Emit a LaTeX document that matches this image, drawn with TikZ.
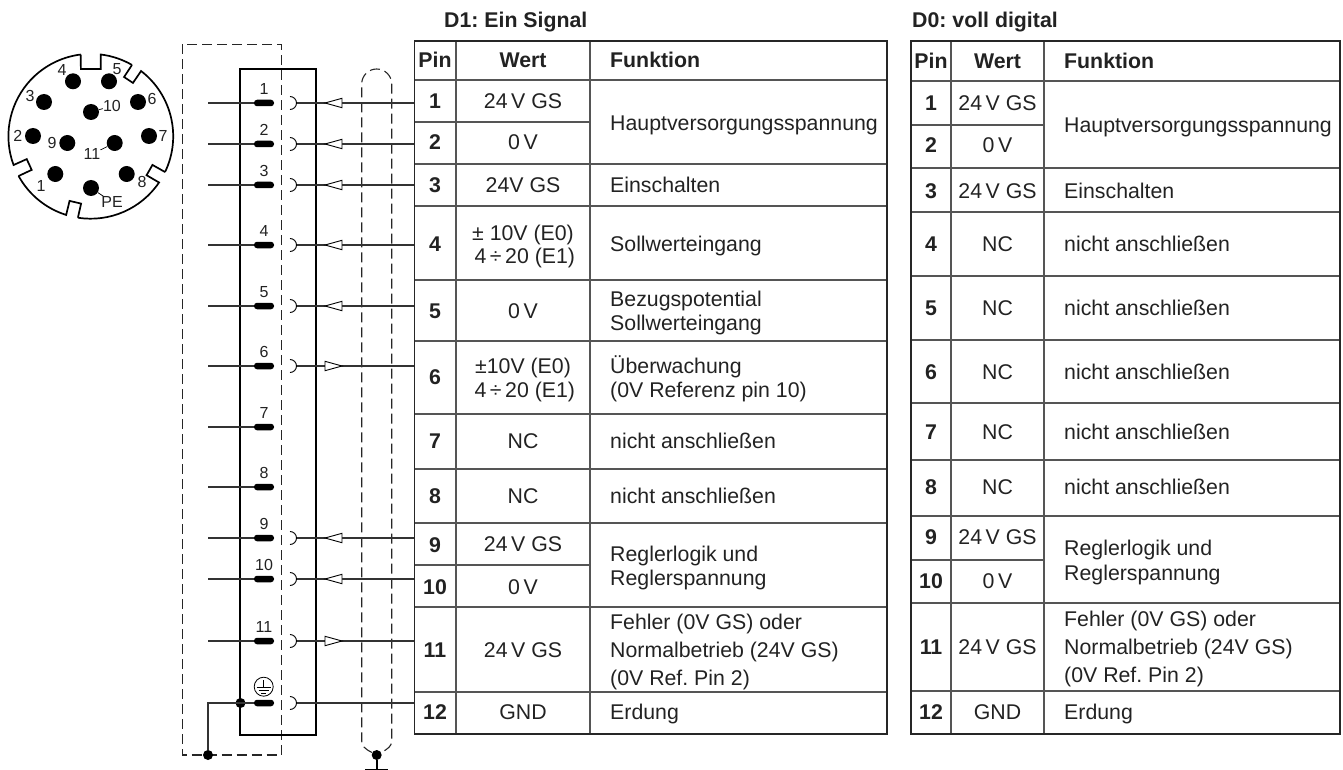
\documentclass[tikz,border=0pt]{standalone}
\usepackage{fontspec}
\setmainfont{Liberation Sans}
\usetikzlibrary{positioning}
\frenchspacing
\definecolor{txtcol}{HTML}{222222}
\definecolor{gridcol}{HTML}{555555}
\definecolor{wirecol}{HTML}{333333}
\tikzset{
  every node/.style={inner sep=0pt,text=txtcol,font=\fontsize{21.3}{24}\selectfont},
  pintxt/.style={anchor=base,font=\fontsize{21.3}{24}\selectfont\bfseries},
  werttxt/.style={anchor=base},
  funktxt/.style={anchor=base west},
  smalltxt/.style={font=\fontsize{16}{17}\selectfont},
  outerline/.style={draw=black!85,line width=1.8pt},
  gridline/.style={draw=gridcol,line width=1.4pt},
  wire/.style={draw=wirecol,line width=1.1pt},
  dashline/.style={draw=black!85,line width=1.1pt,dash pattern=on 10pt off 5pt},
  pinbar/.style={fill=black,rectangle,rounded corners=3pt,minimum width=20pt,minimum height=6.5pt},
  blackdot/.style={fill=black,circle,minimum size=10pt},
  conpin/.style={fill=black,circle,minimum size=16pt}
}
\begin{document}
\begin{tikzpicture}[x=1pt,y=-1pt]
\useasboundingbox (0,0) rectangle (1343,770);

\begin{scope}[shift={(90.8,136.3)}]
  \foreach \a/\o/\i/\e in {29.9/4.2/5/99,103.2/4.2/5/151.2,155.4/4.2/5/263,270/7/8.4/300,303.8/3.8/4.5/385.7}
    \draw[line width=1.7pt] (\a-\o:82.4) -- (\a-\i:68) -- (\a+\i:68) -- (\a+\o:82.4)
      arc[start angle=\a+\o,end angle=\e,radius=82.4];
\end{scope}
\foreach \id/\x/\y/\lx/\ly in {1/55.3/174/41/186,2/33/136/17.7/136,3/44/102/30/96,4/73/81.3/62/70,5/109/81.3/117/69,6/138/102/152/99,7/149/136/163/136,8/126.7/174/142/182,9/67.3/143/52/143,10/91/112/112/106,11/114.7/143/92/154,PE/91/188/112/202}{
  \node[conpin] (con\id) at (\x,\y) {};
  \node[smalltxt] (conlbl\id) at (\lx,\ly) {\id};
}
\draw[line width=0.7pt] (con10) -- (conlbl10);
\draw[line width=0.7pt] (con11) -- (conlbl11);
\draw[line width=0.7pt] (conPE) -- (conlblPE);

\draw[dashline] (182.3,44.3) rectangle (281.3,755);
\draw[line width=1.9pt] (240.3,69) rectangle (316,735);
\draw[dashline] (372,752.5) .. controls (365,749) and (361.7,746) .. (361.7,741) -- (361.7,84)
  arc[start angle=180,end angle=360,radius=15] -- (391.7,741)
  .. controls (391.7,746) and (388,749) .. (381,752.5);

\foreach \n/\y in {1/103,2/144,3/185,4/245,5/306,6/366,7/427,8/487,9/538,10/579,11/641,12/703}{
  \coordinate (wirel\n) at (208,\y);
  \node[pinbar] (pin\n) at (264,\y) {};
}
\foreach \n in {1,...,11}{
  \draw[wire] (wirel\n) -- (pin\n);
  \node[smalltxt,above=4.5pt of pin\n] (pinlbl\n) {\n};
}
\foreach \n/\y/\d in {1/103/1,2/144/1,3/185/1,4/245/1,5/306/1,6/366/-1,9/538/1,10/579/1,11/641/-1,12/703/0}{
  \coordinate (sock\n) at (296.5,\y);
  \coordinate (wirer\n) at (414.5,\y);
  \draw[wire] (sock\n) -- (wirer\n);
  \draw[line width=0.9pt] (290,\y-6.5) arc[start angle=-90,end angle=90,radius=6.5];
  \ifnum\d=0\else
    \draw[line width=0.9pt,fill=white] (333.5-8.5*\d,\y) -- ++(17*\d,-4.7) -- ++(0,9.4) -- cycle;
  \fi
}

\node[blackdot] (junc) at (240.5,703) {};
\node[blackdot] (shield) at (208,755) {};
\node[blackdot] (earth) at (376.7,755) {};
\coordinate (earthbar) at (376.7,769.2);
\draw[wire] (shield) |- (pin12);
\draw[line width=1.7pt] (earth) -- (earthbar);
\draw[line width=1.3pt] (365,769.2) -- (388,769.2);
\node[circle,draw=black,line width=0.8pt,minimum size=19pt] (gndsym) at (263.7,686.7) {};
\draw[line width=0.8pt] (263.7,680) -- (263.7,687);
\draw[line width=0.8pt] (256.7,687) -- (270.7,687);
\draw[line width=0.8pt] (258.7,690) -- (268.7,690);
\draw[line width=0.8pt] (261.2,693) -- (266.2,693);

\node[anchor=base west,font=\fontsize{21.3}{24}\selectfont\bfseries] (titled1) at (444,28) {D1: Ein Signal};
\foreach \y in {80,164,206,280,341,414,469,523,607,692}
  \draw[gridline] (414.5,\y) -- (887,\y);
\foreach \y in {122,565}
  \draw[gridline] (414.5,\y) -- (590,\y);
\foreach \x in {456,590}
  \draw[gridline] (\x,41) -- (\x,734);
\draw[outerline] (414.5,41) rectangle (887,734);
\foreach \id/\y in {Pin/68,1/109,2/150,3/193,4/251,5/318,6/384,7/448,8/503,9/552,10/594,11/657,12/719}
  \node[pintxt] (dapin\id) at (435,\y) {\id};
\foreach \id/\y/\t in {h/68/{\textbf{Wert}},1/109/{24\,V GS},2/150/{0\,V},3/193/{24V GS},4a/240/{± 10V (E0)},4b/263/{\,4\,÷\,20 (E1)},5/318/{0\,V},6a/373/{±10V (E0)},6b/397/{\,4\,÷\,20 (E1)},7/448/NC,8/503/NC,9/551/{24\,V GS},10/594/{0\,V},11/657/{24\,V GS},12/719/GND}
  \node[werttxt] (dawert\id) at (523,\y) {\t};
\foreach \id/\y/\t in {h/68/{\textbf{Funktion}},1/131/Hauptversorgungsspannung,3/193/Einschalten,4/251/Sollwerteingang,5a/306/Bezugspotential,5b/330/Sollwerteingang,6a/373/Überwachung,6b/397/{(0V Referenz pin 10)},7/448/{nicht anschließen},8/503/{nicht anschließen},9a/561/{Reglerlogik und},9b/585/Reglerspannung,11a/629/{Fehler (0V GS) oder},11b/657/{Normalbetrieb (24V GS)},11c/685/{(0V Ref. Pin 2)},12/719/Erdung}
  \node[funktxt] (dafunk\id) at (610,\y) {\t};

\node[anchor=base west,font=\fontsize{21.3}{24}\selectfont\bfseries] (titled0) at (912,28) {D0: voll digital};
\foreach \y in {81,168,212,276,340,403,460,516,603,691}
  \draw[gridline] (911,\y) -- (1340,\y);
\foreach \y in {125,560}
  \draw[gridline] (911,\y) -- (1044,\y);
\foreach \x in {951,1044}
  \draw[gridline] (\x,41) -- (\x,734);
\draw[outerline] (911,41) rectangle (1340,734);
\foreach \id/\y in {Pin/69,1/111,2/153,3/198,4/251,5/315,6/379,7/439,8/494,9/544,10/588,11/654,12/719}
  \node[pintxt] (dbpin\id) at (931,\y) {\id};
\foreach \id/\y/\t in {h/69/{\textbf{Wert}},1/111/{24\,V GS},2/153/{0\,V},3/198/{24\,V GS},4/251/NC,5/315/NC,6/379/NC,7/439/NC,8/494/NC,9/544/{24\,V GS},10/588/{0\,V},11/654/{24\,V GS},12/719/GND}
  \node[werttxt] (dbwert\id) at (997.5,\y) {\t};
\foreach \id/\y/\t in {h/69/{\textbf{Funktion}},1/133/Hauptversorgungsspannung,3/198/Einschalten,4/251/{nicht anschließen},5/315/{nicht anschließen},6/379/{nicht anschließen},7/439/{nicht anschließen},8/494/{nicht anschließen},9a/555/{Reglerlogik und},9b/580/Reglerspannung,11a/626/{Fehler (0V GS) oder},11b/654/{Normalbetrieb (24V GS)},11c/682/{(0V Ref. Pin 2)},12/719/Erdung}
  \node[funktxt] (dbfunk\id) at (1064,\y) {\t};
\end{tikzpicture}
\end{document}
